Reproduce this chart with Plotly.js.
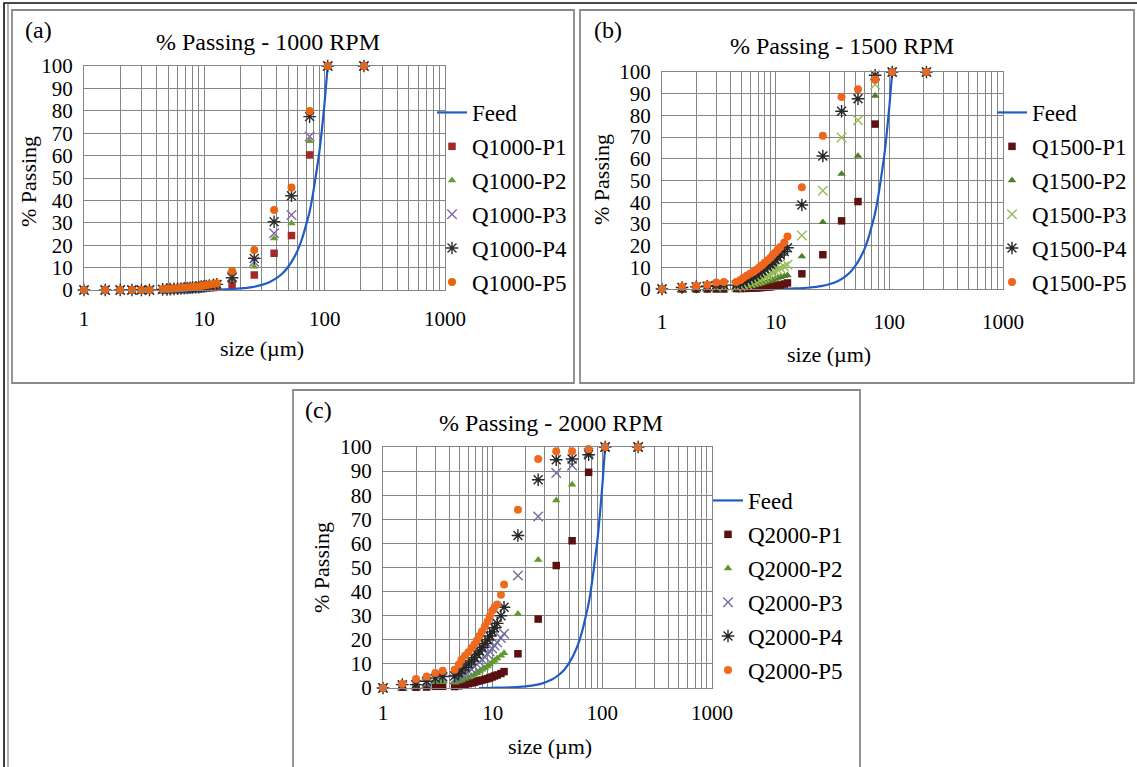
<!DOCTYPE html>
<html>
<head>
<meta charset="utf-8">
<script src="https://cdn.plot.ly/plotly-3.0.1.min.js"></script>
</head>
<body style="margin:0;background:#fff">
<div id="chart"></div>
<script>
// ---------------- DATA ----------------
const SIZES = [1, 1.5, 2, 2.5, 3, 3.5,
  4.5, 4.9, 5.2, 5.6, 6.0, 6.4, 6.8, 7.2, 7.6, 8.0, 8.5, 9.0, 9.4, 9.9, 10.4, 11.0, 11.9, 12.7,
  17, 26, 38, 53, 75, 106, 212];

const FEED_SIZES = [7.5, 10, 12, 15, 20, 25, 30, 35, 40, 45, 50, 55, 60, 65, 70, 75, 80, 85, 90, 95, 100, 106];
const FEED_PASS  = [0, 0.1, 0.15, 0.3, 0.7, 1.3, 2.3, 3.6, 5.4, 7.6, 10.5, 14, 18, 23, 29, 35, 43, 52, 61, 72, 84, 100];

// (a) 1000 RPM
const A_P1 = [0,0,0,0,0,0, 0.1,0.1,0.2,0.2,0.3,0.3,0.4,0.4,0.5,0.5,0.6,0.7,0.7,0.8,0.9,1.0,1.1,1.2, 2.5, 6.7, 16.4, 24.3, 60.3, 100, 100];
const A_P2 = [0,0,0,0,0,0, 0.2,0.2,0.3,0.3,0.4,0.5,0.5,0.6,0.7,0.7,0.8,0.9,1.0,1.1,1.2,1.4,1.6,1.8, 4.5, 10.4, 23.0, 29.8, 66.5, 100, 100];
const A_P3 = [0,0,0,0,0,0, 0.2,0.3,0.3,0.4,0.5,0.5,0.6,0.7,0.8,0.9,1.0,1.1,1.2,1.3,1.5,1.7,1.9,2.2, 6.0, 12.6, 25.3, 33.5, 68.5, 100, 100];
const A_P4 = [0,0,0,0,0,0, 0.3,0.3,0.4,0.5,0.6,0.7,0.8,0.9,1.0,1.1,1.2,1.3,1.5,1.6,1.8,2.0,2.3,2.5, 5.5, 14.1, 30.5, 42.1, 77.4, 100, 100];
const A_P5 = [0,0,0,0,0,0, 0.4,0.5,0.6,0.7,0.8,0.9,1.0,1.1,1.2,1.3,1.5,1.6,1.8,2.0,2.2,2.4,2.7,3.0, 8.5, 17.9, 35.7, 45.8, 79.9, 100, 100];

// (b) 1500 RPM
const B_P1 = [0,0,0,0,0,0, 0.2,0.2,0.3,0.3,0.4,0.5,0.5,0.6,0.7,0.8,0.9,1.0,1.2,1.4,1.6,1.9,2.3,2.8, 7.0, 15.8, 31.4, 40.3, 76.0, 100, 100];
const B_P2 = [0,0.3,0.5,0.6,0.8,0.9, 0.8,1.0,1.2,1.4,1.6,1.8,2.1,2.4,2.7,3.0,3.4,3.8,4.2,4.7,5.1,5.5,5.9,6.3, 15.0, 30.8, 53.0, 61.3, 89.0, 100, 100];
const B_P3 = [0,0.5,0.8,1.0,1.2,1.3, 1.0,1.4,1.8,2.2,2.7,3.2,3.7,4.2,4.8,5.4,6.1,6.8,7.5,8.2,8.9,9.7,10.4,11.2, 24.7, 45.3, 69.8, 77.8, 94.2, 100, 100];
const B_P4 = [0,0.7,1.0,1.3,1.6,1.8, 1.8,2.5,3.2,4.0,4.8,5.6,6.5,7.4,8.3,9.3,10.3,11.4,12.4,13.5,14.6,15.7,17.3,19.0, 38.7, 61.3, 81.9, 87.7, 98.5, 100, 100];
const B_P5 = [0,1.0,1.5,2.0,3.0,3.2, 3.2,4.2,5.2,6.2,7.1,8.0,9.0,10.0,11.0,12.1,13.2,14.4,15.6,16.8,18.0,19.3,21.4,24.2, 46.9, 70.6, 88.5, 92.0, 96.6, 100, 100];

// (c) 2000 RPM
const C_P1 = [0,0.3,0.3,0.4,0.7,0.7, 0.6,0.9,1.2,1.5,1.8,2.1,2.4,2.7,3.0,3.3,3.6,3.9,4.2,4.6,5.0,5.4,6.0,6.8, 14.2, 28.6, 50.8, 61.1, 89.5, 100, 100];
const C_P2 = [0,0.7,1.0,1.4,2.4,2.4, 2.2,2.7,3.2,3.8,4.4,5.0,5.6,6.2,6.9,7.6,8.3,9.0,9.8,10.6,11.4,12.3,13.4,14.5, 30.8, 53.2, 77.9, 84.4, 97.0, 100, 100];
const C_P3 = [0,0.7,1.2,2.0,3.7,4.1, 3.6,4.4,5.2,6.0,6.9,7.8,8.8,9.8,10.8,11.8,12.9,14.0,15.2,16.4,17.6,18.9,20.7,22.5, 46.7, 71.2, 89.2, 92.3, 97.5, 100, 100];
const C_P4 = [0,1.4,1.4,2.8,4.1,4.8, 5.0,6.2,7.4,8.6,9.9,11.2,12.6,14.0,15.4,16.9,18.4,20.0,21.6,23.3,25.0,26.8,30.0,33.5, 63.3, 86.4, 94.7, 95.0, 96.8, 100, 100];
const C_P5 = [0,1.8,3.7,4.8,6.2,7.2, 7.6,9.7,11.8,13.4,14.8,16.6,18.0,19.8,21.7,23.5,25.6,27.7,29.7,32.1,33.5,34.6,38.7,42.9, 74.0, 95.0, 98.2, 98.2, 99.2, 100, 100];

const NAMES_A = ["Q1000-P1", "Q1000-P2", "Q1000-P3", "Q1000-P4", "Q1000-P5"];
const NAMES_B = ["Q1500-P1", "Q1500-P2", "Q1500-P3", "Q1500-P4", "Q1500-P5"];
const NAMES_C = ["Q2000-P1", "Q2000-P2", "Q2000-P3", "Q2000-P4", "Q2000-P5"];
const FEED_NAME = "Feed";
const TITLES = ["% Passing - 1000 RPM", "% Passing - 1500 RPM", "% Passing - 2000 RPM"];
const LETTERS = ["(a)", "(b)", "(c)"];
const Y_TITLE = "% Passing";
const X_TITLE = "size (µm)";
const Y_TICKS = [0, 10, 20, 30, 40, 50, 60, 70, 80, 90, 100];
const X_LABELS = ["1", "10", "100", "1000"];

// ---------------- LAYOUT HELPERS ----------------
const W = 1137, H = 767;
const PX = v => v / W;
const PY = v => 1 - v / H;
const FONT = "Liberation Serif";
const GRID = "#858585";

const xTickVals = [], xTickText = [];
[1, 10, 100].forEach((d, i) => {
  for (let k = 1; k <= 9; k++) { xTickVals.push(d * k); xTickText.push(k === 1 ? X_LABELS[i] : ""); }
});
xTickVals.push(1000); xTickText.push(X_LABELS[3]);

function xAxis(l, r, standoff) {
  return {
    type: "log", range: [0, 3], domain: [PX(l), PX(r)],
    tickmode: "array", tickvals: xTickVals, ticktext: xTickText,
    showgrid: true, gridcolor: GRID, gridwidth: 1,
    showline: true, mirror: true, linecolor: GRID, linewidth: 1,
    ticks: "", zeroline: false, fixedrange: true, ticklabelstandoff: standoff,
    tickfont: { family: FONT, size: 21, color: "#000" }
  };
}
function yAxis(b, t) {
  return {
    range: [0, 100], domain: [PY(b), PY(t)],
    tickmode: "array", tickvals: Y_TICKS,
    showgrid: true, gridcolor: GRID, gridwidth: 1,
    showline: true, mirror: true, linecolor: GRID, linewidth: 1,
    ticks: "", zeroline: false, fixedrange: true, ticklabelstandoff: 6,
    tickfont: { family: FONT, size: 21, color: "#000" }
  };
}

const PANELS = [
  { xa: "x",  ya: "y",  lg: "legend",  names: NAMES_A, data: [A_P1, A_P2, A_P3, A_P4, A_P5],
    colors: ["#A3292B", "#6E9A35", "#8267A8", "#2E2E2E", "#E8650F"] },
  { xa: "x2", ya: "y2", lg: "legend2", names: NAMES_B, data: [B_P1, B_P2, B_P3, B_P4, B_P5],
    colors: ["#5E1212", "#4E7F26", "#96BD56", "#262626", "#F0641E"] },
  { xa: "x3", ya: "y3", lg: "legend3", names: NAMES_C, data: [C_P1, C_P2, C_P3, C_P4, C_P5],
    colors: ["#5A0F10", "#5E9A2A", "#6E6E9E", "#262626", "#EE6A1E"] }
];
const SYMBOLS = ["square", "triangle-up", "x-thin-open", "asterisk-open", "circle"];
const MSIZE = [7.5, 7.5, 9.5, 10.5, 8];

const traces = [];
PANELS.forEach((p, pi) => {
  traces.push({
    x: FEED_SIZES, y: FEED_PASS, name: FEED_NAME, mode: "lines", type: "scatter",
    line: { color: "#1F5CC4", width: 2.2, shape: "spline" },
    xaxis: p.xa, yaxis: p.ya, legend: p.lg, legendgroup: "g" + pi + "f", hoverinfo: "skip"
  });
  p.data.forEach((ys, si) => {
    const open = SYMBOLS[si].indexOf("open") >= 0;
    traces.push({
      x: SIZES, y: ys, name: p.names[si], mode: "markers", type: "scatter",
      marker: {
        symbol: SYMBOLS[si], size: MSIZE[si], color: p.colors[si],
        line: { color: p.colors[si], width: open ? 1.4 : 0 }
      },
      xaxis: p.xa, yaxis: p.ya, legend: p.lg, legendgroup: "g" + pi + "s" + si, hoverinfo: "skip", cliponaxis: false
    });
  });
});

function legendAt(xpx, ypx, gap) {
  return {
    x: PX(xpx), y: PY(ypx), xanchor: "left", yanchor: "top",
    font: { family: FONT, size: 23, color: "#000" },
    bgcolor: "rgba(0,0,0,0)", borderwidth: 0, tracegroupgap: gap, itemwidth: 30,
    traceorder: "grouped"
  };
}

function ann(text, x, y, size, angle) {
  return {
    text: text, x: PX(x), y: PY(y), xref: "paper", yref: "paper",
    showarrow: false, xanchor: "center", yanchor: "middle",
    textangle: angle || 0, font: { family: FONT, size: size, color: "#000" }
  };
}

const annotations = [
  ann(LETTERS[0], 38, 30, 24), ann(TITLES[0], 268, 42, 24), ann(Y_TITLE, 28, 182, 22, -90), ann(X_TITLE, 262, 348, 22),
  ann(LETTERS[1], 608, 30, 24), ann(TITLES[1], 842, 46, 24), ann(Y_TITLE, 602, 180, 22, -90), ann(X_TITLE, 829, 354, 22),
  ann(LETTERS[2], 318, 410, 24), ann(TITLES[2], 551, 423, 24), ann(Y_TITLE, 321, 568, 22, -90), ann(X_TITLE, 550, 746, 22)
];

function box(x0, y0, x1, y1, color, width) {
  return { type: "rect", xref: "paper", yref: "paper", x0: PX(x0), x1: PX(x1), y0: PY(y1), y1: PY(y0),
    line: { color: color, width: width }, fillcolor: "rgba(0,0,0,0)", layer: "below" };
}

const shapes = [
  box(4, 3, 1145, 780, "#111", 1.6),
  box(8, 3, 1145, 780, "#444", 0.8),
  box(12, 10, 574, 383, "#8a8a8a", 1.8),
  box(580, 10, 1134, 383, "#8a8a8a", 1.8),
  box(293, 390, 860, 780, "#8a8a8a", 1.8)
];

const layout = {
  width: W, height: H, margin: { l: 0, r: 0, t: 0, b: 0 },
  font: { family: FONT, color: "#000" },
  paper_bgcolor: "#fff", plot_bgcolor: "#fff", showlegend: true,
  xaxis: xAxis(84, 445, 10), yaxis: yAxis(290, 66),
  xaxis2: Object.assign(xAxis(662, 1003, 14), { anchor: "y2" }), yaxis2: Object.assign(yAxis(289, 72), { anchor: "x2" }),
  xaxis3: Object.assign(xAxis(383, 712, 6), { anchor: "y3" }), yaxis3: Object.assign(yAxis(688, 447), { anchor: "x3" }),
  legend: legendAt(432, 91, 1), legend2: legendAt(992, 91, 1), legend3: legendAt(708, 479, 1),
  annotations: annotations, shapes: shapes
};
layout.xaxis.anchor = "y"; layout.yaxis.anchor = "x";

Plotly.newPlot("chart", traces, layout, { displayModeBar: false });
</script>
</body>
</html>
